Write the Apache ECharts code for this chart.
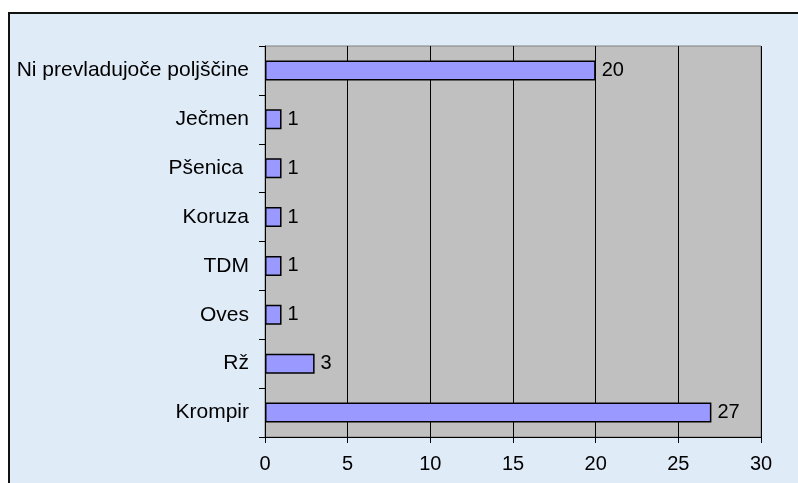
<!DOCTYPE html>
<html>
<head>
<meta charset="utf-8">
<script src="https://cdn.jsdelivr.net/npm/echarts@6/dist/echarts.min.js"></script>
<style>
  html, body { margin: 0; padding: 0; background: #fff; }
  #chart { width: 798px; height: 483px; }
</style>
</head>
<body>
<div id="chart"></div>
<script>
// podatki
const categories = ['Ni prevladujoče poljščine', 'Ječmen', 'Pšenica ', 'Koruza', 'TDM', 'Oves', 'Rž', 'Krompir'];
const values = [20, 1, 1, 1, 1, 1, 3, 27];
const xTicks = [0, 5, 10, 15, 20, 25, 30];

const font = 'Liberation Sans, Arial, sans-serif';

let myChart = echarts.init(document.getElementById('chart'));
myChart.setOption({
    animation: false,
    graphic: [
        {
            type: 'rect',
            z: -10,
            silent: true,
            shape: { x: 9, y: 13, width: 800, height: 480 },
            style: { fill: '#e0ebf8', stroke: '#111', lineWidth: 2 }
        }
    ],
    grid: {
        left: 265,
        right: 37,
        top: 46,
        bottom: 46,
        show: true,
        backgroundColor: '#c0c0c0',
        borderColor: '#808080',
        borderWidth: 1
    },
    xAxis: {
        type: 'value',
        min: xTicks[0],
        max: xTicks[xTicks.length - 1],
        interval: 5,
        axisLine: { show: true, lineStyle: { color: '#000', width: 1 } },
        axisTick: { show: true, length: 6, lineStyle: { color: '#000' } },
        splitLine: { show: true, lineStyle: { color: '#000', width: 1 } },
        axisLabel: { color: '#000', fontSize: 20, fontFamily: font, margin: 17 }
    },
    yAxis: {
        type: 'category',
        inverse: true,
        data: categories,
        axisLine: { show: true, lineStyle: { color: '#000', width: 1 } },
        axisTick: { show: true, length: 6, alignWithLabel: false, lineStyle: { color: '#000' } },
        axisLabel: { color: '#000', fontSize: 21, fontFamily: font, margin: 16 }
    },
    series: [
        {
            type: 'bar',
            data: values,
            barWidth: 20,
            itemStyle: { color: '#9999ff', borderColor: '#000', borderWidth: 1.5 },
            label: {
                show: true,
                position: 'right',
                distance: 6,
                color: '#000',
                fontSize: 20,
                fontFamily: font
            }
        }
    ]
});
</script>
</body>
</html>
